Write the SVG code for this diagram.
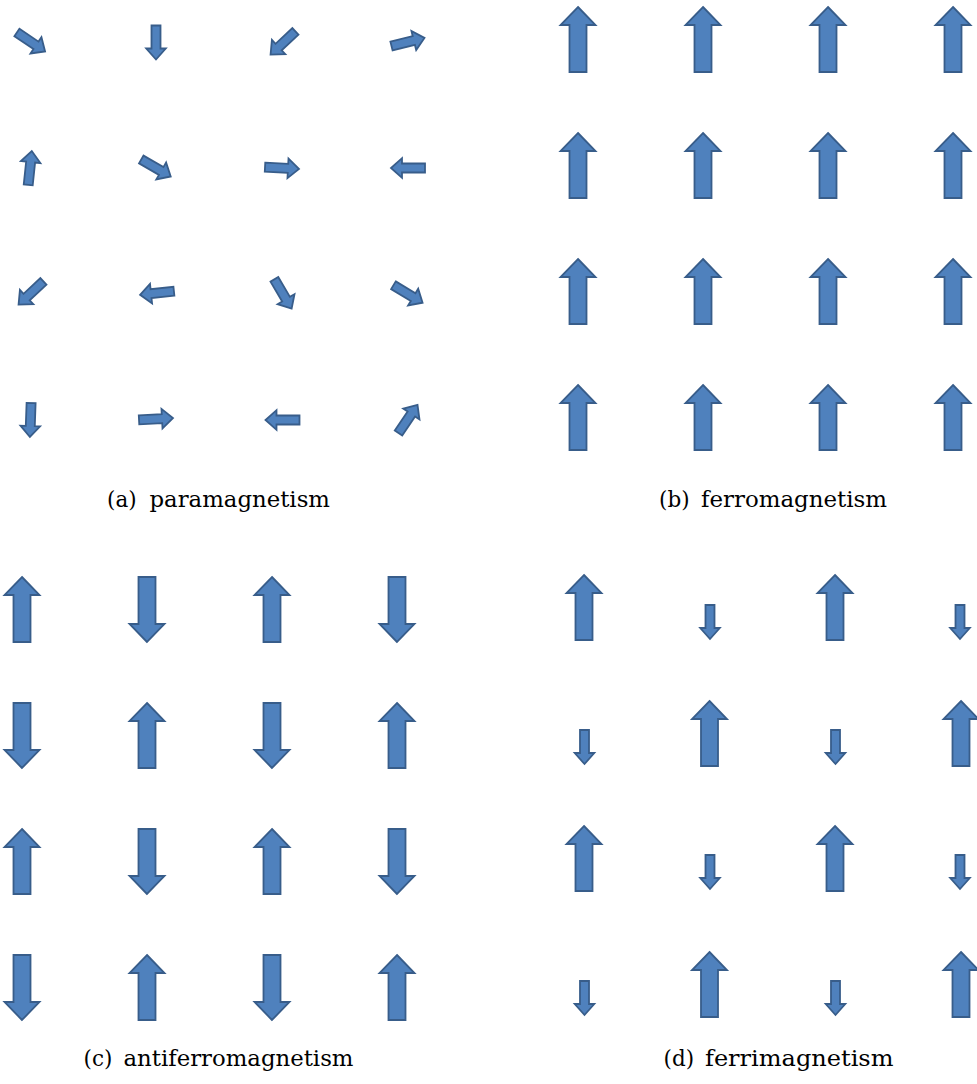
<svg xmlns="http://www.w3.org/2000/svg" xmlns:xlink="http://www.w3.org/1999/xlink" width="977" height="1084" viewBox="0 0 977 1084">
<style>
.a{fill:#4F81BD;stroke:#385D8A;stroke-width:1.8;stroke-linejoin:miter}
.lbl{font-family:"DejaVu Serif","Liberation Serif",serif;font-size:21.5px;fill:#000}
</style>
<defs>
<path id="big" class="a" d="M0,-32.5 L17.5,-14.5 L8.5,-14.5 L8.5,32.5 L-8.5,32.5 L-8.5,-14.5 L-17.5,-14.5 Z"/>
<path id="sm" class="a" d="M-17,-4.5 L6,-4.5 L6,-9.8 L17,0 L6,9.8 L6,4.5 L-17,4.5 Z"/>
</defs>
<rect width="977" height="1084" fill="#fff"/>
<g id="para">
<use xlink:href="#sm" transform="translate(31,42) rotate(34)"/>
<use xlink:href="#sm" transform="translate(156,42.5) rotate(90)"/>
<use xlink:href="#sm" transform="translate(283,43) rotate(137)"/>
<use xlink:href="#sm" transform="translate(408,42) rotate(-14)"/>
<use xlink:href="#sm" transform="translate(30,168) rotate(-84)"/>
<use xlink:href="#sm" transform="translate(156,168) rotate(30)"/>
<use xlink:href="#sm" transform="translate(282,168) rotate(3)"/>
<use xlink:href="#sm" transform="translate(408,168) rotate(180)"/>
<use xlink:href="#sm" transform="translate(31,293) rotate(137)"/>
<use xlink:href="#sm" transform="translate(157,293) rotate(174)"/>
<use xlink:href="#sm" transform="translate(283,294) rotate(59.5)"/>
<use xlink:href="#sm" transform="translate(408,294) rotate(31)"/>
<use xlink:href="#sm" transform="translate(30.5,420) rotate(92)"/>
<use xlink:href="#sm" transform="translate(156,419) rotate(-3)"/>
<use xlink:href="#sm" transform="translate(282.5,420) rotate(180)"/>
<use xlink:href="#sm" transform="translate(408,419) rotate(-56)"/>
</g>
<g id="ferro">
<use xlink:href="#big" transform="translate(578,39.5)"/>
<use xlink:href="#big" transform="translate(703,39.5)"/>
<use xlink:href="#big" transform="translate(828,39.5)"/>
<use xlink:href="#big" transform="translate(953,39.5)"/>
<use xlink:href="#big" transform="translate(578,165.5)"/>
<use xlink:href="#big" transform="translate(703,165.5)"/>
<use xlink:href="#big" transform="translate(828,165.5)"/>
<use xlink:href="#big" transform="translate(953,165.5)"/>
<use xlink:href="#big" transform="translate(578,291.5)"/>
<use xlink:href="#big" transform="translate(703,291.5)"/>
<use xlink:href="#big" transform="translate(828,291.5)"/>
<use xlink:href="#big" transform="translate(953,291.5)"/>
<use xlink:href="#big" transform="translate(578,417.5)"/>
<use xlink:href="#big" transform="translate(703,417.5)"/>
<use xlink:href="#big" transform="translate(828,417.5)"/>
<use xlink:href="#big" transform="translate(953,417.5)"/>
</g>
<g id="antiferro">
<use xlink:href="#big" transform="translate(22,609.5)"/>
<use xlink:href="#big" transform="translate(147,609.5) rotate(180)"/>
<use xlink:href="#big" transform="translate(272,609.5)"/>
<use xlink:href="#big" transform="translate(397,609.5) rotate(180)"/>
<use xlink:href="#big" transform="translate(22,735.5) rotate(180)"/>
<use xlink:href="#big" transform="translate(147,735.5)"/>
<use xlink:href="#big" transform="translate(272,735.5) rotate(180)"/>
<use xlink:href="#big" transform="translate(397,735.5)"/>
<use xlink:href="#big" transform="translate(22,861.5)"/>
<use xlink:href="#big" transform="translate(147,861.5) rotate(180)"/>
<use xlink:href="#big" transform="translate(272,861.5)"/>
<use xlink:href="#big" transform="translate(397,861.5) rotate(180)"/>
<use xlink:href="#big" transform="translate(22,987.5) rotate(180)"/>
<use xlink:href="#big" transform="translate(147,987.5)"/>
<use xlink:href="#big" transform="translate(272,987.5) rotate(180)"/>
<use xlink:href="#big" transform="translate(397,987.5)"/>
</g>
<g id="ferri">
<use xlink:href="#big" transform="translate(584,607.5)"/>
<use xlink:href="#sm" transform="translate(710,622) rotate(90)"/>
<use xlink:href="#big" transform="translate(835,607.5)"/>
<use xlink:href="#sm" transform="translate(960,622) rotate(90)"/>
<use xlink:href="#sm" transform="translate(584.5,747) rotate(90)"/>
<use xlink:href="#big" transform="translate(709.5,733.5)"/>
<use xlink:href="#sm" transform="translate(835.5,747) rotate(90)"/>
<use xlink:href="#big" transform="translate(961,733.5)"/>
<use xlink:href="#big" transform="translate(584,858.5)"/>
<use xlink:href="#sm" transform="translate(710,872) rotate(90)"/>
<use xlink:href="#big" transform="translate(835,858.5)"/>
<use xlink:href="#sm" transform="translate(960,872) rotate(90)"/>
<use xlink:href="#sm" transform="translate(584.5,998) rotate(90)"/>
<use xlink:href="#big" transform="translate(709.5,984.5)"/>
<use xlink:href="#sm" transform="translate(835.5,998) rotate(90)"/>
<use xlink:href="#big" transform="translate(961,984.5)"/>
</g>
<g id="labels">
<text class="lbl" y="506.5"><tspan x="107">(a)</tspan> <tspan x="149.5" textLength="180.5" lengthAdjust="spacingAndGlyphs">paramagnetism</tspan></text>
<text class="lbl" y="506.5"><tspan x="659">(b)</tspan> <tspan x="701" textLength="186" lengthAdjust="spacingAndGlyphs">ferromagnetism</tspan></text>
<text class="lbl" y="1065.5"><tspan x="83.5">(c)</tspan> <tspan x="123.5" textLength="230" lengthAdjust="spacingAndGlyphs">antiferromagnetism</tspan></text>
<text class="lbl" y="1065.5"><tspan x="663.5">(d)</tspan> <tspan x="705" textLength="188.5" lengthAdjust="spacingAndGlyphs">ferrimagnetism</tspan></text>
</g>
</svg>
